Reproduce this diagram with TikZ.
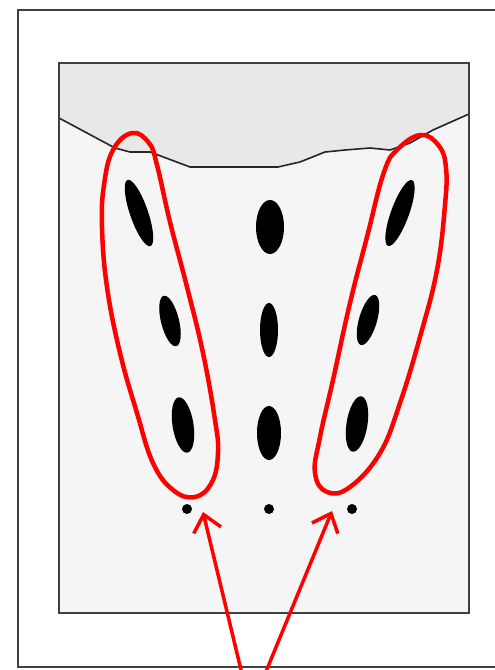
\documentclass[tikz,border=0pt]{standalone}
\usetikzlibrary{arrows.meta}
\begin{document}
\begin{tikzpicture}[x=1pt,y=-1pt,
  frame/.style={draw=black!75,line width=2.4pt},
  blob/.style={fill=black},
  loop/.style={draw=red,line width=4.5pt,line join=round},
  pointer/.style={draw=red,line width=3.5pt,-{Straight Barb[length=16pt,width=28pt]}}]
\useasboundingbox (0,0) rectangle (495,670);
\fill[white] (0,0) rectangle (495,670);
% outer frame
\draw[frame] (500,10) -- (18,10) -- (18,667) -- (500,667);
% inner panel
\fill[black!4] (59,63) rectangle (469,613);
\fill[black!9] (59,63) -- (469,63) -- (469,114) -- (433,130) -- (410,143) -- (390,150) -- (370,148) -- (345,150) -- (325,152) -- (300,162) -- (278,167) -- (265,167) -- (190,167) -- (150,152) -- (130,152) -- (115,148) -- (59,118) -- cycle;
\draw[black!85,line width=1.6pt,line join=round] (59,118) -- (115,148) -- (130,152) -- (150,152) -- (190,167) -- (265,167) -- (278,167) -- (300,162) -- (325,152) -- (345,150) -- (370,148) -- (390,150) -- (410,143) -- (433,130) -- (469,114);
\draw[frame] (59,63) rectangle (469,613);
% blobs
\fill[blob,rotate around={19:(139,213)}] (139,213) ellipse [x radius=9, y radius=35];
\fill[blob] (270,227) ellipse [x radius=14, y radius=27];
\fill[blob,rotate around={-20:(400,213)}] (400,213) ellipse [x radius=9, y radius=35];
\fill[blob,rotate around={14:(170,321)}] (170,321) ellipse [x radius=9, y radius=26];
\fill[blob] (269,330) ellipse [x radius=9, y radius=27];
\fill[blob,rotate around={-16:(368,320)}] (368,320) ellipse [x radius=9, y radius=26];
\fill[blob,rotate around={9:(183,425)}] (183,425) ellipse [x radius=10.5, y radius=28];
\fill[blob] (269,433) ellipse [x radius=12, y radius=27];
\fill[blob,rotate around={-9:(357,424)}] (357,424) ellipse [x radius=10.5, y radius=28];
\fill[blob] (187,509) circle [radius=5];
\fill[blob] (269,509) circle [radius=5];
\fill[blob] (352,509) circle [radius=5];
% red loops
\draw[loop] plot[smooth cycle,tension=0.7] coordinates {(132,133) (113,150) (104,185) (102,227) (107,287) (120,353) (137,413) (153,463) (173,490) (195,497) (212,482) (218,453) (215,420) (203,353) (187,287) (170,222) (157,165) (149,143)};
\draw[loop] plot[smooth cycle,tension=0.7] coordinates {(421,135) (398,149) (384,172) (367,237) (350,303) (333,380) (320,437) (315,473) (327,492) (350,487) (380,453) (400,403) (420,337) (437,270) (445,205) (446,168) (439,146)};
% arrows
\coordinate (s1) at (242,674);
\coordinate (t1) at (203,512);
\coordinate (s2) at (265,674);
\coordinate (t2) at (332,511);
\draw[pointer] (s1) -- (t1);
\draw[pointer] (s2) -- (t2);
\end{tikzpicture}
\end{document}
